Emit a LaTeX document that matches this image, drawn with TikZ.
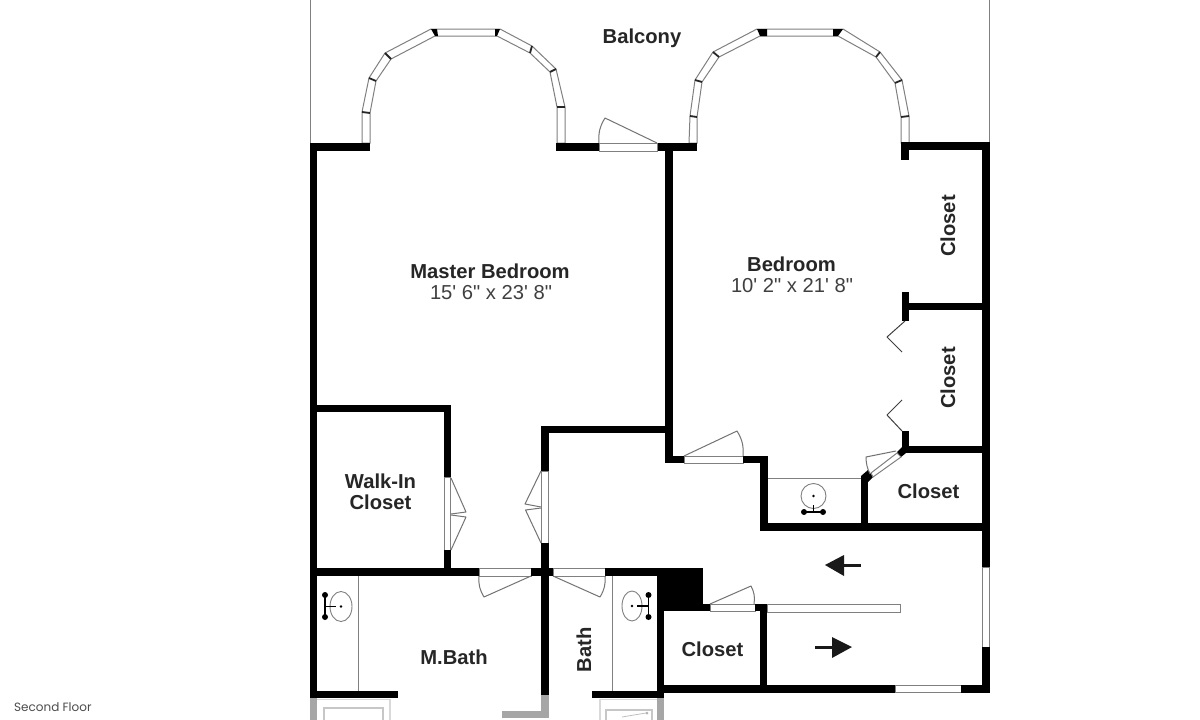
\documentclass[tikz,border=0pt]{standalone}
\usepackage{fontspec}
\setmainfont{Liberation Sans}
\newfontfamily\plainfont{Liberation Sans}
\newfontfamily\capfont{Poppins}
\tikzset{
  x=1pt,y=-1pt,
  wallfill/.style={fill=black,draw=none},
  fadefill/.style={fill=black!35,draw=none},
  winbox/.style={fill=white,draw=black!50,line width=1pt},
  thin line/.style={draw=black!50,line width=1pt},
  fade line/.style={draw=black!15,line width=1.2pt},
  leaf/.style={draw=black!55,line width=1pt,line join=round},
  room/.style={font=\bfseries\fontsize{20.2}{22}\selectfont,text=black!85,inner sep=0pt,align=center},
  dims/.style={font=\plainfont\fontsize{20.2}{22}\selectfont,text=black!75,inner sep=0pt},
  capt/.style={font=\capfont\fontsize{12}{14}\selectfont,text=black!70,inner sep=0pt,anchor=west},
  sinkline/.style={draw=black!50,line width=0.9pt},
  tapline/.style={draw=black,line width=1.2pt},
}
\newcommand{\wl}[4]{\fill[wallfill] (#1,#2) rectangle (#3,#4);}
\newcommand{\win}[4]{\draw[winbox] (#1,#2) rectangle (#3,#4);}
\begin{document}
\begin{tikzpicture}
\useasboundingbox (0,0) rectangle (1200,720);
\fill[white] (0,0) rectangle (1200,720);
% balcony rails
\draw[thin line] (310,0) -- (310,143);
\draw[thin line] (989,0) -- (989,143);
% bay windows
\draw[winbox] (362,143) -- (362,112) -- (369,78) -- (385,53) -- (431,29) -- (500,29) -- (532,46) -- (556,69) -- (565,107) -- (565,143) -- (557,143) -- (557,107) -- (550,72) -- (530,53) -- (497,36) -- (435,36) -- (391,59) -- (376,81) -- (370,113) -- (370,143) -- cycle;
\draw[winbox] (689,143) -- (690,116) -- (695,80) -- (713,52) -- (757,29) -- (843,29) -- (880,52) -- (902,80) -- (909,116) -- (909,143) -- (901,143) -- (901,117) -- (895,83) -- (876,57) -- (838,36) -- (760,36) -- (719,57) -- (702,82) -- (697,117) -- (697,143) -- cycle;
\foreach \a/\b/\c/\d in {362/112/370/113,369/78/376/81,385/53/391/59,532/46/530/53,556/69/550/72,557/107/565/107,690/116/697/117,695/80/702/82,713/52/719/57,880/52/876/57,902/80/895/83,901/117/909/116}
  \draw[line width=1.8pt,black!85] (\a,\b) -- (\c,\d);
\fill[wallfill] (431,29) -- (437,29) -- (438,36) -- (435,36) -- cycle;
\fill[wallfill] (495,29) -- (500,29) -- (497,36) -- (495,36) -- cycle;
\fill[wallfill] (757,29) -- (767,29) -- (767,36) -- (760,36) -- cycle;
\fill[wallfill] (833,29) -- (843,29) -- (838,36) -- (833,36) -- cycle;
% top walls
\wl{310}{143}{370}{151}
\wl{556}{143}{599}{151}
\wl{657}{143}{697}{151}
\win{599}{143}{657}{151}
\wl{901}{142}{990}{150}
\wl{901}{142}{909}{160}
% master bedroom and hall verticals
\wl{310}{143}{317}{695}
\wl{665}{143}{673}{463}
\wl{982}{142}{990}{567}
\win{982.5}{567}{989.5}{647}
\wl{982}{647}{990}{692}
% closets on right
\wl{902}{292}{909}{321}
\wl{902}{303}{984}{310}
\wl{902}{431}{909}{447}
\wl{902}{446}{984}{453}
% bedroom door step
\wl{665}{456}{684}{463}
\win{684}{456}{743}{463}
\wl{743}{456}{768}{463}
\wl{760}{456}{768}{531}
\wl{760}{523}{990}{531}
\wl{861}{478}{868}{523}
\fill[wallfill] (861,476) -- (868,470) -- (873,477) -- (868,482) -- (861,482) -- cycle;
\fill[wallfill] (897,452) -- (903,446) -- (909,446) -- (906,453) -- (901,457) -- cycle;
\draw[winbox] (871,473) -- (897,453) -- (901,457) -- (873,477) -- cycle;
\draw[thin line] (768,478.5) -- (861,478.5);
% walk-in closet
\wl{317}{405}{451}{412}
\wl{444}{405}{451}{477}
\win{444.5}{477}{450.5}{550}
\wl{444}{550}{451}{576}
\wl{310}{568}{479}{576}
\win{479}{568}{531}{576}
\wl{531}{568}{553}{576}
\win{553}{568}{605}{576}
\wl{605}{568}{664}{576}
% hall wall
\wl{541}{426}{673}{433}
\wl{541}{426}{548.5}{471}
\win{541.5}{471}{548}{543}
\wl{541}{543}{548.5}{695}
% block and closet
\wl{657}{568}{664}{694}
\wl{657}{568}{703}{611}
\wl{703}{604}{710}{611}
\win{710}{604}{755}{611}
\wl{755}{604}{767}{611}
\wl{760}{604}{767}{692}
\win{767}{604}{900.5}{612}
\wl{657}{685}{895}{692.5}
\win{895}{685.5}{961}{692}
\wl{961}{685}{990}{692.5}
% bottom walls
\wl{310}{691}{398}{698}
\wl{592}{691}{664}{698}
% faded bottom
\fill[fadefill] (310,698) rectangle (317,720);
\fill[fadefill] (541,695) rectangle (549,718);
\fill[fadefill] (502,711) rectangle (549,718);
\fill[fadefill] (657,698) rectangle (664,720);
\draw[fade line] (317,699.5) -- (390,699.5) -- (390,720);
\draw[draw=black!22,line width=2.5pt] (324,720) -- (324,708) -- (383,708) -- (383,720);
\draw[fade line] (600,699) -- (600,720);
\draw[fade line] (600,699.5) -- (657,699.5);
\draw[draw=black!22,line width=2pt] (606,720) -- (606,710) -- (652,710) -- (652,720);
\draw[draw=black!25,line width=0.8pt] (622,717) -- (646,713);
\fill[black!30] (647,713) circle (1.5);
% door leaves
\draw[leaf] (657,143) -- (605,118) to[bend right=18] (599,143);
\draw[leaf] (684,456) -- (737,431) to[bend left=18] (743,456);
\draw[leaf] (710,604) -- (751,586) to[bend left=18] (754,604);
\draw[leaf] (531,576) -- (484,597) to[bend left=18] (479,576);
\draw[leaf] (553,576) -- (600,597) to[bend right=18] (605,576);
\draw[leaf] (896,451) -- (866,457) to[bend right=12] (870,474);
\draw[leaf] (451,478) -- (466,512) -- (451,514);
\draw[leaf] (451,515) -- (466,517) -- (451,550);
\draw[leaf] (541,471) -- (525,504) -- (541,507);
\draw[leaf] (541,508) -- (525.5,510) -- (541,543);
% bifold
\draw[leaf,draw=black!75] (905,321) -- (887,337) -- (902,352);
\draw[leaf,draw=black!75] (902,400) -- (887,415) -- (902,431);
% sinks
\draw[thin line] (358.5,576) -- (358.5,691);
\draw[thin line] (612.5,576) -- (612.5,691);
\draw[sinkline] (341,606.5) ellipse (11 and 15);
\fill (341,606.5) circle (1.3);
\draw[tapline] (325,606.5) -- (336,606.5) (325,595) -- (325,617);
\fill (325,595) circle (3) (325,617) circle (3);
\draw[sinkline] (632,606) ellipse (10 and 15);
\fill (632,606) circle (1.3);
\draw[tapline] (637,606) -- (648.5,606) (648.5,595) -- (648.5,617);
\fill (648.5,595) circle (3) (648.5,617) circle (3);
\draw[sinkline] (813.5,496) circle (12.5);
\fill (813.5,496) circle (1.3);
\draw[tapline] (813.5,505) -- (813.5,512) (804,512) -- (823,512);
\fill (804,512) circle (3) (823,512) circle (3);
% arrows
\draw[line width=3pt,black!90] (842,565) -- (861,565);
\fill[black!90] (825,565) -- (844,555) -- (844,576) -- cycle;
\draw[line width=3pt,black!90] (815,647) -- (834,647);
\fill[black!90] (852,647) -- (832,637) -- (832,658) -- cycle;
% labels
\node[room] (balcony) at (642,38) {Balcony};
\node[room] (master) at (490,271) {Master Bedroom};
\node[dims] (masterdim) at (491,293) {15' 6" x 23' 8"};
\node[room] (bedroom) at (791.5,264.5) {Bedroom};
\node[dims] (bedroomdim) at (792,286) {10' 2" x 21' 8"};
\node[room,rotate=90] (closeta) at (948,226) {Closet};
\node[room,rotate=90] (closetb) at (948,378) {Closet};
\node[room] (closetc) at (928.5,491.5) {Closet};
\node[room] (closetd) at (712.5,649.5) {Closet};
\node[room] (walkin) at (380.5,492) {Walk-In\\[-0.5pt]Closet};
\node[room] (mbath) at (454,657.5) {M.Bath};
\node[room,rotate=90] (bath) at (584,650) {Bath};
\node[capt] (floor) at (14,707) {Second Floor};
\end{tikzpicture}
\end{document}
